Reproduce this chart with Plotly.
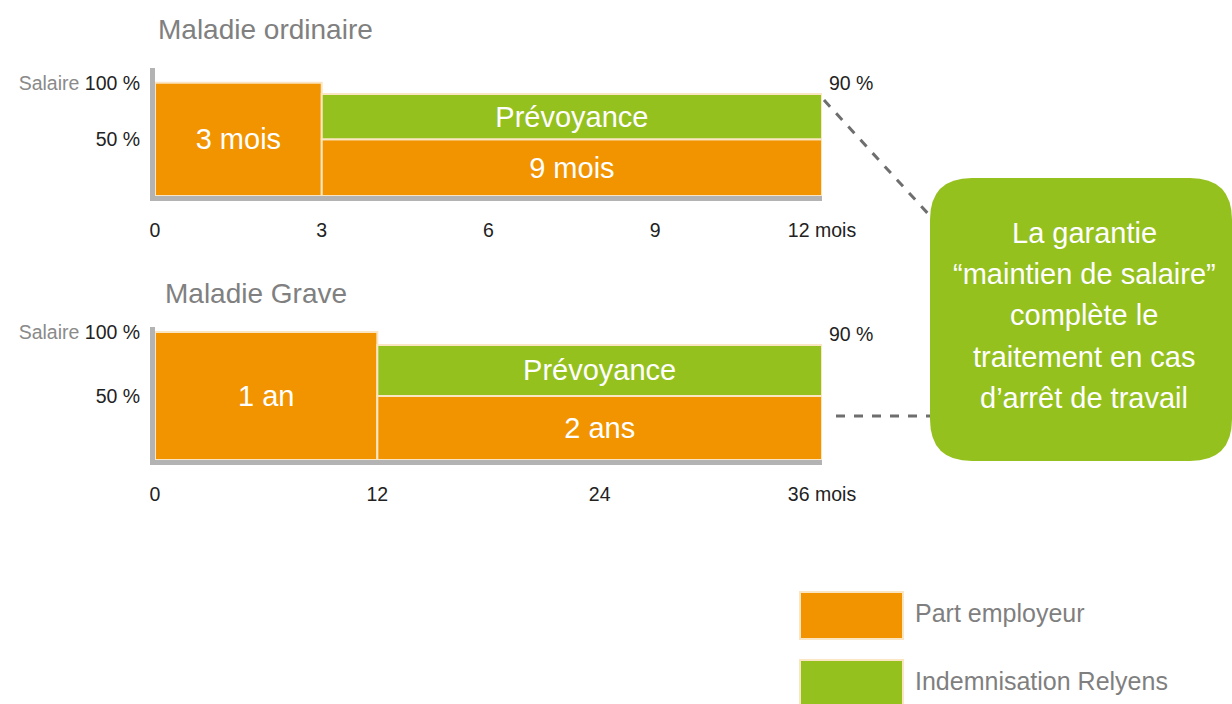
import plotly.graph_objects as go

# ---- data ----
titles = ["Maladie ordinaire", "Maladie Grave"]

# Maladie ordinaire (months)
mo_emp_start = [0, 3]
mo_emp_len = [3, 9]
mo_emp_level = [100, 50]
mo_emp_label = ["3 mois", "9 mois"]
mo_rel_start = [3]
mo_rel_len = [9]
mo_rel_base = [50]
mo_rel_top = [90]
mo_rel_label = ["Prévoyance"]
mo_xticks = [0, 3, 6, 9, 12]
mo_xticktext = ["0", "3", "6", "9", "12 mois"]

# Maladie grave (months)
mg_emp_start = [0, 12]
mg_emp_len = [12, 24]
mg_emp_level = [100, 50]
mg_emp_label = ["1 an", "2 ans"]
mg_rel_start = [12]
mg_rel_len = [24]
mg_rel_base = [50]
mg_rel_top = [90]
mg_rel_label = ["Prévoyance"]
mg_xticks = [0, 12, 24, 36]
mg_xticktext = ["0", "12", "24", "36 mois"]

yticks = [50, 100]
yticktext = ["50 %", "<span style='color:#8a8a8a'>Salaire</span> 100 %"]
cap_label = "90 %"

legend_labels = ["Part employeur", "Indemnisation Relyens"]
callout_lines = ["La garantie", "\u201cmaintien de salaire\u201d", "complète le",
                 "traitement en cas", "d\u2019arrêt de travail"]

# ---- style ----
ORANGE = "#f29400"
GREEN = "#95c11f"
EDGE = "#fbe6c4"
AXIS = "#b3b3b3"
FONT = "Liberation Sans, Arial, sans-serif"
W, H = 1232, 704
TICK_SIZE = 19.5
BAR_TEXT = 29


def px(x):
    return x / W


def py(y):
    return 1 - y / H


fig = go.Figure()

panels = [
    dict(xa="x", ya="y", es=mo_emp_start, el=mo_emp_len, ev=mo_emp_level, elab=mo_emp_label,
         rs=mo_rel_start, rl=mo_rel_len, rb=mo_rel_base, rt=mo_rel_top, rlab=mo_rel_label,
         xmax=12),
    dict(xa="x2", ya="y2", es=mg_emp_start, el=mg_emp_len, ev=mg_emp_level, elab=mg_emp_label,
         rs=mg_rel_start, rl=mg_rel_len, rb=mg_rel_base, rt=mg_rel_top, rlab=mg_rel_label,
         xmax=36),
]

for p in panels:
    fig.add_trace(go.Bar(
        x=p["es"], width=p["el"], offset=0, base=[0] * len(p["es"]), y=p["ev"],
        marker=dict(color=ORANGE, line=dict(color=EDGE, width=2)),
        text=p["elab"], textposition="inside", insidetextanchor="middle",
        textfont=dict(color="white", size=BAR_TEXT, family=FONT),
        xaxis=p["xa"], yaxis=p["ya"], showlegend=False, hoverinfo="skip",
    ))
    fig.add_trace(go.Bar(
        x=p["rs"], width=p["rl"], offset=0, base=p["rb"],
        y=[t - b for t, b in zip(p["rt"], p["rb"])],
        marker=dict(color=GREEN, line=dict(color=EDGE, width=2)),
        text=p["rlab"], textposition="inside", insidetextanchor="middle",
        textfont=dict(color="white", size=BAR_TEXT, family=FONT),
        xaxis=p["xa"], yaxis=p["ya"], showlegend=False, hoverinfo="skip",
    ))
    fig.add_annotation(x=p["xmax"], y=p["rt"][0], xref=p["xa"], yref=p["ya"],
                       text=cap_label, showarrow=False, xanchor="left", yanchor="bottom",
                       xshift=5, yshift=-2,
                       font=dict(size=TICK_SIZE, color="#222222", family=FONT))

axis_common = dict(showgrid=False, zeroline=False, showline=True, linecolor=AXIS,
                   linewidth=5, ticks="", fixedrange=True, automargin=False,
                   tickfont=dict(size=TICK_SIZE, color="#222222", family=FONT))

fig.update_layout(
    xaxis=dict(domain=[px(155), px(822)], range=[0, 12], anchor="y",
               tickvals=mo_xticks, ticktext=mo_xticktext, ticklabelstandoff=13, **axis_common),
    yaxis=dict(domain=[py(196), py(68)], range=[0, 113], anchor="x",
               tickvals=yticks, ticktext=yticktext, ticklabelstandoff=6, **axis_common),
    xaxis2=dict(domain=[px(155), px(822)], range=[0, 36], anchor="y2",
                tickvals=mg_xticks, ticktext=mg_xticktext, ticklabelstandoff=13, **axis_common),
    yaxis2=dict(domain=[py(460), py(327)], range=[0, 104], anchor="x2",
                tickvals=yticks, ticktext=yticktext, ticklabelstandoff=6, **axis_common),
    barmode="overlay",
    width=W, height=H,
    margin=dict(l=0, r=0, t=0, b=0, autoexpand=False),
    paper_bgcolor="white", plot_bgcolor="white",
    font=dict(family=FONT),
    showlegend=False,
)

# panel titles
fig.add_annotation(x=px(156), y=py(30), xref="paper", yref="paper", text=titles[0],
                   showarrow=False, xanchor="left", yanchor="middle",
                   font=dict(size=28, color="#808080", family=FONT))
fig.add_annotation(x=px(163), y=py(293), xref="paper", yref="paper", text=titles[1],
                   showarrow=False, xanchor="left", yanchor="middle",
                   font=dict(size=28, color="#808080", family=FONT))

# dashed connectors
fig.add_shape(type="line", xref="paper", yref="paper", x0=px(824), y0=py(100), x1=px(932), y1=py(218),
              line=dict(color="#6e6e6e", width=3, dash="dash"))
fig.add_shape(type="line", xref="paper", yref="paper", x0=px(836), y0=py(416), x1=px(932), y1=py(416),
              line=dict(color="#6e6e6e", width=3, dash="dash"))

# rounded callout box
x0, x1, y0, y1, r = 930, 1232, 178, 461, 42
path = (f"M {px(x0 + r)},{py(y0)} L {px(x1 - r)},{py(y0)} "
        f"Q {px(x1)},{py(y0)} {px(x1)},{py(y0 + r)} "
        f"L {px(x1)},{py(y1 - r)} Q {px(x1)},{py(y1)} {px(x1 - r)},{py(y1)} "
        f"L {px(x0 + r)},{py(y1)} Q {px(x0)},{py(y1)} {px(x0)},{py(y1 - r)} "
        f"L {px(x0)},{py(y0 + r)} Q {px(x0)},{py(y0)} {px(x0 + r)},{py(y0)} Z")
fig.add_shape(type="path", xref="paper", yref="paper", path=path,
              fillcolor=GREEN, line=dict(color=GREEN, width=0))
for i, line in enumerate(callout_lines):
    fig.add_annotation(x=px(1084), y=py(233 + 41.2 * i), xref="paper", yref="paper",
                       text=line, showarrow=False, xanchor="center", yanchor="middle",
                       font=dict(size=29, color="white", family=FONT))

# legend swatches
for (ty, col, lab) in [(592, ORANGE, legend_labels[0]), (660, GREEN, legend_labels[1])]:
    fig.add_shape(type="rect", xref="paper", yref="paper",
                  x0=px(800), x1=px(903), y0=py(ty), y1=py(ty + 47),
                  fillcolor=col, line=dict(color=EDGE, width=2))
    fig.add_annotation(x=px(913), y=py(ty + 21), xref="paper", yref="paper", text=lab,
                       showarrow=False, xanchor="left", yanchor="middle",
                       font=dict(size=25, color="#7f7f7f", family=FONT))

fig.write_html(
    "out.html",
    config={"displayModeBar": False},
    post_script="document.body.style.margin='0';document.body.style.overflow='hidden';",
)
